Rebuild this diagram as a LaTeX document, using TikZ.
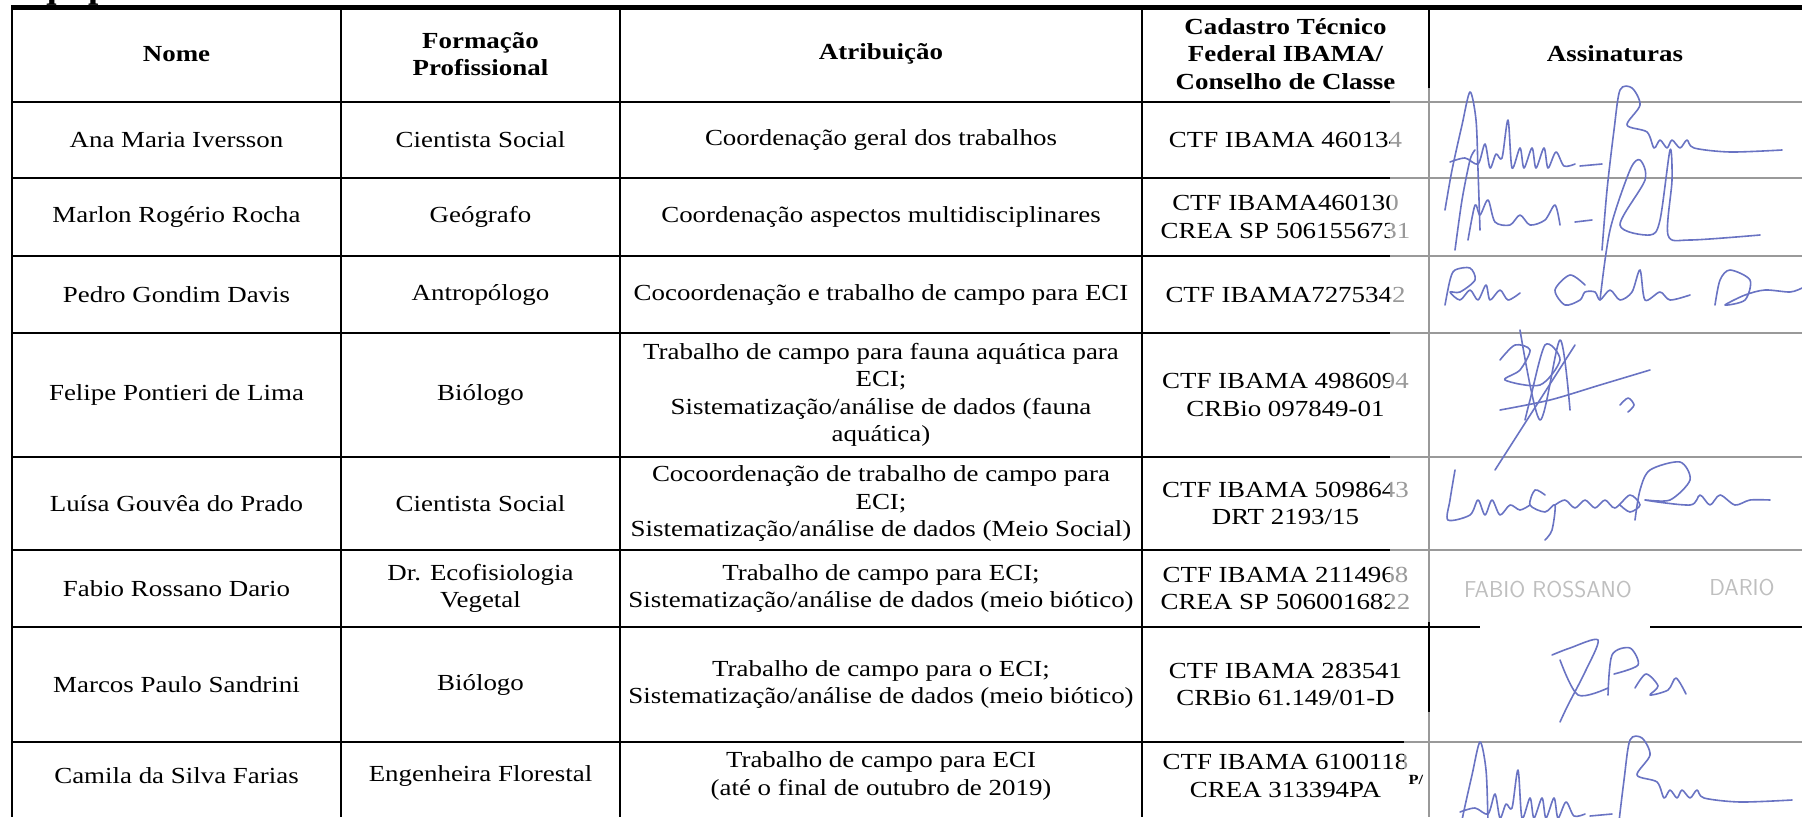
\documentclass[tikz,border=0pt]{standalone}
\usepackage{fontspec}
\setmainfont{Liberation Serif}[FakeStretch=1.17]
\newfontfamily\titulofonte{Liberation Serif}
\usepackage{tikz}
\usepackage{xcolor}
\definecolor{tinta}{RGB}{105,115,195}

\tikzset{
  celula/.style={align=center, font=\fontsize{23}{27.5}\selectfont},
  cabecalho/.style={align=center, font=\bfseries\fontsize{23}{27.5}\selectfont},
  grade/.style={line width=2.4pt},
  assinatura/.style={tinta, line width=1.6pt, line cap=round, line join=round},
  digitalizada/.style={fill=white, opacity=0.6},
  carimbo/.style={font=\sffamily\fontsize{23}{26}\selectfont\addfontfeature{LetterSpace=8}, text=gray!50},
}

% Signature used twice
\newcommand\assinaturaAna{%
  \draw[assinatura] plot[smooth] coordinates {(15,110) (22,70) (32,25) (40,-8) (46,20) (48,70) (50,130)};
  \draw[assinatura] plot[smooth] coordinates {(20,62) (35,58) (48,64) (55,44) (60,68) (66,54) (72,58) (78,20) (82,68) (90,48) (94,68) (102,48) (106,68) (114,48) (118,68) (126,52) (134,66) (145,64)};
  \draw[assinatura] (150,66) -- (172,64);
  \draw[assinatura] plot[smooth] coordinates {(172,150) (177,90) (184,30) (190,-10) (202,-12) (210,5) (197,25) (217,32) (224,48) (230,40) (237,48) (242,40) (250,48) (257,40) (264,48) (300,52) (352,50)};
}

\begin{document}
\begin{tikzpicture}[x=1pt,y=-1pt]
  \useasboundingbox (0,0) rectangle (1802,817);

  % Heading cut off by the page edge
  \node[anchor=base west, inner sep=0pt, font=\titulofonte\bfseries\fontsize{37}{40}\selectfont] (titulo) at (12,-2.6) {Equipe};

  % Grid
  \draw[line width=5pt] (11,7.5) -- (1802,7.5);
  \foreach \y in {102,178,256,333,457,550,627,742}
    \draw[grade] (12,\y) -- (1802,\y);
  \foreach \x in {12,341,620,1142,1429}
    \draw[grade] (\x,5) -- (\x,817);

  % Header
  \node[cabecalho] (hnome) at (176.5,54) {Nome};
  \node[cabecalho] (hformacao) at (480.5,54) {Formação\\Profissional};
  \node[cabecalho] (hatrib) at (881,54) {Atribuição};
  \node[cabecalho] (hctf) at (1285.5,54) {Cadastro Técnico\\Federal IBAMA/\\Conselho de Classe};
  \node[cabecalho] (hass) at (1615,54) {Assinaturas};

  % Row 1
  \node[celula] (nome1) at (176.5,140) {Ana Maria Iversson};
  \node[celula] (form1) at (480.5,140) {Cientista Social};
  \node[celula] (atrib1) at (881,140) {Coordenação geral dos trabalhos};
  \node[celula] (ctf1) at (1285.5,140) {CTF IBAMA 460134};

  % Row 2
  \node[celula] (nome2) at (176.5,217) {Marlon Rogério Rocha};
  \node[celula] (form2) at (480.5,217) {Geógrafo};
  \node[celula] (atrib2) at (881,217) {Coordenação aspectos multidisciplinares};
  \node[celula] (ctf2) at (1285.5,217) {CTF IBAMA460130\\CREA SP 5061556731};

  % Row 3
  \node[celula] (nome3) at (176.5,294.5) {Pedro Gondim Davis};
  \node[celula] (form3) at (480.5,294.5) {Antropólogo};
  \node[celula] (atrib3) at (881,294.5) {Cocoordenação e trabalho de campo para ECI};
  \node[celula] (ctf3) at (1285.5,294.5) {CTF IBAMA7275342};

  % Row 4
  \node[celula] (nome4) at (176.5,395) {Felipe Pontieri de Lima};
  \node[celula] (form4) at (480.5,395) {Biólogo};
  \node[celula] (atrib4) at (881,395) {Trabalho de campo para fauna aquática para\\ECI;\\Sistematização/análise de dados (fauna\\aquática)};
  \node[celula] (ctf4) at (1285.5,395) {CTF IBAMA 4986094\\CRBio 097849-01};

  % Row 5
  \node[celula] (nome5) at (176.5,503.5) {Luísa Gouvêa do Prado};
  \node[celula] (form5) at (480.5,503.5) {Cientista Social};
  \node[celula] (atrib5) at (881,503.5) {Cocoordenação de trabalho de campo para\\ECI;\\Sistematização/análise de dados (Meio Social)};
  \node[celula] (ctf5) at (1285.5,503.5) {CTF IBAMA 5098643\\DRT 2193/15};

  % Row 6
  \node[celula] (nome6) at (176.5,588.5) {Fabio Rossano Dario};
  \node[celula] (form6) at (480.5,588.5) {Dr. Ecofisiologia\\Vegetal};
  \node[celula] (atrib6) at (881,588.5) {Trabalho de campo para ECI;\\Sistematização/análise de dados (meio biótico)};
  \node[celula] (ctf6) at (1285.5,588.5) {CTF IBAMA 2114968\\CREA SP 5060016822};

  % Row 7
  \node[celula] (nome7) at (176.5,684.5) {Marcos Paulo Sandrini};
  \node[celula] (form7) at (480.5,684.5) {Biólogo};
  \node[celula] (atrib7) at (881,684.5) {Trabalho de campo para o ECI;\\Sistematização/análise de dados (meio biótico)};
  \node[celula] (ctf7) at (1285.5,684.5) {CTF IBAMA 283541\\CRBio 61.149/01-D};

  % Row 8
  \node[celula] (nome8) at (176.5,776) {Camila da Silva Farias};
  \node[celula] (form8) at (480.5,776) {Engenheira Florestal};
  \node[celula] (atrib8) at (881,776) {Trabalho de campo para ECI\\(até o final de outubro de 2019)};
  \node[celula] (ctf8) at (1285.5,776) {CTF IBAMA 6100118\\CREA 313394PA};

  % Scanned signature sheets
  \fill[digitalizada] (1390,88) rectangle (1802,622);
  \fill[digitalizada] (1404,712) rectangle (1802,817);
  \fill[white] (1480,622) rectangle (1650,640);

  % Signatures
  \begin{scope}[shift={(1430,100)}]
    \assinaturaAna
  \end{scope}

  \draw[assinatura] plot[smooth] coordinates {(1455,250) (1462,200) (1470,160) (1475,150)};
  \draw[assinatura] plot[smooth] coordinates {(1468,240) (1475,205) (1480,215) (1488,200) (1495,222) (1510,225) (1520,215) (1530,225) (1545,220) (1555,205) (1560,225)};
  \draw[assinatura] (1575,222) -- (1592,220);
  \draw[assinatura] plot[smooth] coordinates {(1600,300) (1610,230) (1630,170) (1640,160) (1645,180) (1620,225) (1650,235) (1660,220) (1670,150) (1672,180) (1668,235) (1690,240) (1760,235)};

  \draw[assinatura] plot[smooth] coordinates {(1445,305) (1450,280) (1455,270) (1470,268) (1475,280) (1460,292) (1450,292) (1460,300) (1470,290) (1478,300) (1486,285) (1490,300) (1500,290) (1508,300) (1520,293)};
  \draw[assinatura] plot[smooth] coordinates {(1585,285) (1570,275) (1555,290) (1565,305) (1580,300) (1585,292) (1595,292) (1600,300) (1610,290) (1620,300) (1632,292) (1640,270) (1645,300) (1660,292) (1670,300) (1690,295)};
  \draw[assinatura] plot[smooth] coordinates {(1715,305) (1720,280) (1730,270) (1750,280) (1745,300) (1725,305) (1745,295) (1765,290) (1790,292) (1802,288)};

  \draw[assinatura] plot[smooth] coordinates {(1500,360) (1515,345) (1530,350) (1520,370) (1505,380) (1540,385) (1560,360) (1545,345) (1530,400) (1525,420)};
  \draw[assinatura] plot[smooth] coordinates {(1520,330) (1540,420) (1560,340) (1570,410)};
  \draw[assinatura] (1495,470) -- (1575,345);
  \draw[assinatura] plot[smooth] coordinates {(1500,410) (1550,400) (1600,385) (1650,370)};
  \draw[assinatura] plot[smooth] coordinates {(1620,405) (1628,398) (1634,405) (1628,412)};

  \draw[assinatura] plot[smooth] coordinates {(1455,470) (1450,500) (1448,520) (1470,515) (1478,500) (1485,515) (1492,500) (1500,515) (1510,505) (1520,510) (1530,505)};
  \draw[assinatura] plot[smooth] coordinates {(1545,495) (1535,490) (1530,505) (1545,512) (1555,505) (1552,530) (1545,540)};
  \draw[assinatura] plot[smooth] coordinates {(1555,505) (1565,500) (1575,508) (1585,500) (1595,508) (1605,500) (1615,508) (1630,495) (1640,505) (1630,512) (1620,505)};
  \draw[assinatura] plot[smooth] coordinates {(1635,520) (1640,490) (1650,470) (1680,462) (1690,480) (1670,500) (1645,500) (1690,505) (1700,495) (1710,505) (1720,495) (1735,505) (1750,500) (1770,500)};

  \node[carimbo] (fabio1) at (1548,590) {FABIO ROSSANO};
  \node[carimbo] (fabio2) at (1742,588) {DARIO};

  \draw[assinatura] plot[smooth] coordinates {(1552,655) (1570,648) (1598,640) (1585,672) (1568,705) (1560,722)};
  \draw[assinatura] plot[smooth] coordinates {(1560,660) (1578,695) (1608,688)};
  \draw[assinatura] plot[smooth] coordinates {(1608,695) (1612,655) (1630,648) (1638,665) (1614,674)};
  \draw[assinatura] plot[smooth] coordinates {(1635,688) (1646,674) (1658,686) (1650,695) (1668,690) (1676,678) (1686,694)};

  \node[font=\bfseries\fontsize{14}{16}\selectfont] (ppor) at (1416,780) {P/};
  \begin{scope}[shift={(1440,750)}]
    \assinaturaAna
  \end{scope}
\end{tikzpicture}
\end{document}
